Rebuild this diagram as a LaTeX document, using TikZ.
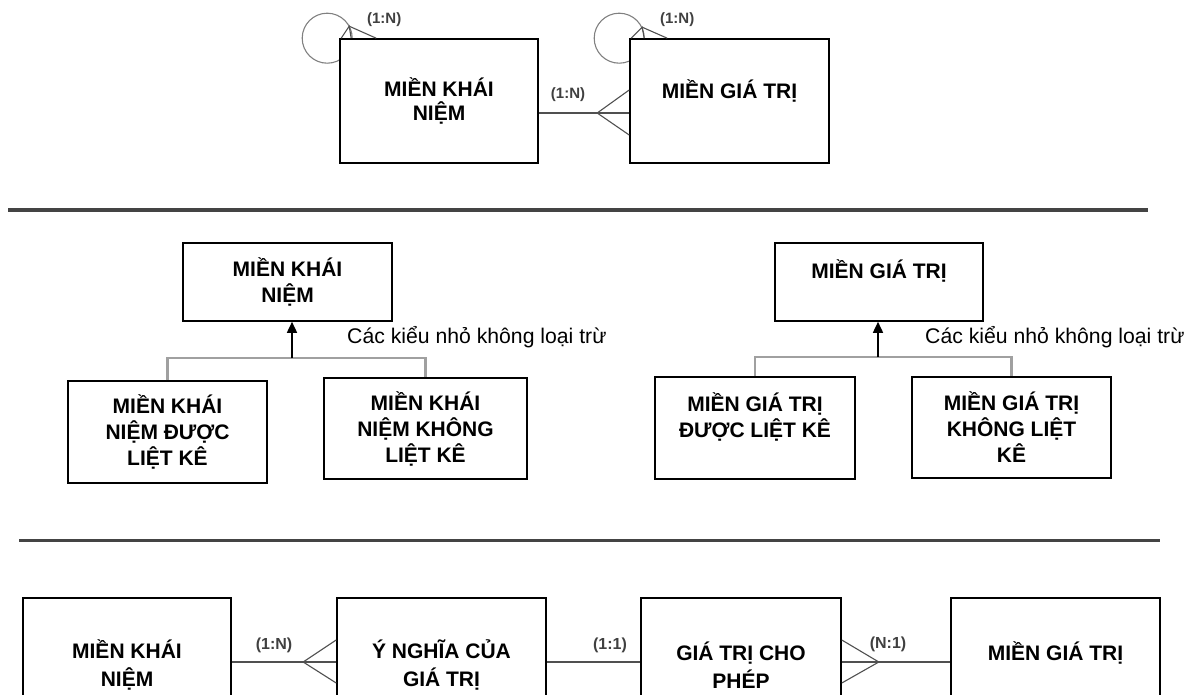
\documentclass[tikz,border=0pt]{standalone}
\usepackage{fontspec}
\setmainfont{Liberation Sans}
\usetikzlibrary{arrows.meta,calc}
\pgfdeclarelayer{bg}
\pgfsetlayers{bg,main}
\definecolor{sepgray}{HTML}{444444}
\definecolor{treegray}{HTML}{A0A0A0}
\definecolor{conngray}{HTML}{505050}
\definecolor{lblgray}{HTML}{404040}
\begin{document}
\begin{tikzpicture}[x=1pt,y=-1pt,
  boxbase/.style={draw=black, line width=1.6pt, fill=white, inner sep=0pt, align=center},
  boxtop/.style={boxbase, font=\fontsize{21}{24}\selectfont\bfseries},
  boxmid/.style={boxbase, font=\fontsize{21}{26}\selectfont\bfseries},
  boxbot/.style={boxbase, font=\fontsize{21}{28}\selectfont\bfseries},
  conn/.style={draw=conngray, line width=1.4pt},
  crow/.style={draw=conngray, line width=1.1pt},
  selfloop/.style={draw=gray, line width=1.1pt},
  lbl/.style={text=lblgray, font=\fontsize{15}{17}\selectfont\bfseries, inner sep=0pt},
  lblb/.style={lbl, font=\fontsize{16}{18}\selectfont\bfseries},
  tree/.style={draw=treegray, line width=2.4pt},
  inh/.style={draw=black, line width=1.6pt, -{Triangle[width=10pt,length=11pt]}},
  note/.style={font=\fontsize{21.2}{25}\selectfont, inner sep=0pt},
  sepline/.style={draw=sepgray, line width=3pt}
]
\useasboundingbox (0,0) rectangle (1188,695);
\clip (0,0) rectangle (1188,695);

% ---------- top section ----------
\node[boxtop, minimum width=198pt, minimum height=124pt] (k1) at (439,101) {MIỀN KHÁI\\NIỆM};
\node[boxtop, minimum width=199pt, minimum height=124pt] (g1) at (729.5,101) {MIỀN GIÁ TRỊ\\\phantom{M}};

\draw[conn] ([yshift=-12pt]k1.east) -- ([yshift=-12pt]g1.west);
\coordinate (v1) at ([xshift=-32pt,yshift=-12pt]g1.west);
\draw[crow] ([yshift=11pt]g1.west) -- (v1) -- ([yshift=-34pt]g1.west);
\node[lbl] (l1) at (568,95) {(1:N)};

\begin{pgfonlayer}{bg}
  \draw[selfloop] ([xshift=-12pt]k1.north west) circle[radius=25pt];
  \draw[selfloop] ([xshift=-10pt]g1.north west) circle[radius=25pt];
\end{pgfonlayer}
\coordinate (v2) at ([xshift=10pt,yshift=12pt]k1.north west);
\draw[crow] ([xshift=2pt]k1.north west) -- (v2) -- ([xshift=12pt]k1.north west);
\draw[crow] (v2) -- ([xshift=37pt]k1.north west);
\node[lbl] (l2) at ([xshift=45pt,yshift=19pt]k1.north west) {(1:N)};

\coordinate (v3) at ([xshift=13pt,yshift=11pt]g1.north west);
\draw[crow] ([xshift=2pt]g1.north west) -- (v3) -- ([xshift=15pt]g1.north west);
\draw[crow] (v3) -- ([xshift=38pt]g1.north west);
\node[lbl] (l3) at ([xshift=48pt,yshift=19pt]g1.north west) {(1:N)};

\draw[sepline] (8,210) -- (1148,210);

% ---------- middle section, left ----------
\node[boxmid, minimum width=209pt, minimum height=78pt] (p1) at (287.5,282) {MIỀN KHÁI\\NIỆM};
\node[boxmid, minimum width=199pt, minimum height=102pt] (c1) at (167.5,432) {MIỀN KHÁI\\NIỆM ĐƯỢC\\LIỆT KÊ};
\node[boxmid, minimum width=203pt, minimum height=101pt] (c2) at (425.5,428.5) {MIỀN KHÁI\\NIỆM KHÔNG\\LIỆT KÊ};
\coordinate (j1) at (292,358);
\draw[tree] (c1.north) |- (j1) -| (c2.north);
\draw[inh] (j1) -- (j1 |- p1.south);
\node[note, anchor=west] (n1) at (347,337) {Các kiểu nhỏ không loại trừ};

% ---------- middle section, right ----------
\node[boxmid, minimum width=208pt, minimum height=78pt] (p2) at (879,282) {MIỀN GIÁ TRỊ\\\phantom{M}};
\node[boxmid, minimum width=200pt, minimum height=102pt] (c3) at (755,428) {MIỀN GIÁ TRỊ\\ĐƯỢC LIỆT KÊ\\\phantom{M}};
\node[boxmid, minimum width=199pt, minimum height=101pt] (c4) at (1011.5,427.5) {MIỀN GIÁ TRỊ\\KHÔNG LIỆT\\KÊ};
\coordinate (j2) at (878,357);
\draw[tree] (c3.north) |- (j2) -| (c4.north);
\draw[inh] (j2) -- (j2 |- p2.south);
\node[note, anchor=west] (n2) at (925,337) {Các kiểu nhỏ không loại trừ};

\draw[sepline] (19,540) -- (1160,540);

% ---------- bottom section ----------
\node[boxbot, minimum width=208pt, minimum height=134pt] (ba) at (127,665) {MIỀN KHÁI\\NIỆM};
\node[boxbot, minimum width=209pt, minimum height=134pt] (bb) at (441.5,665) {Ý NGHĨA CỦA\\GIÁ TRỊ};
\node[boxbot, minimum width=200pt, minimum height=134pt] (bc) at (741,665) {GIÁ TRỊ CHO\\PHÉP};
\node[boxbot, minimum width=209pt, minimum height=134pt] (bd) at (1055.5,665) {MIỀN GIÁ TRỊ\\\phantom{M}};

\draw[conn] ([yshift=3pt]ba.east) -- ([yshift=3pt]bb.west);
\coordinate (v4) at ([xshift=-33pt,yshift=3pt]bb.west);
\draw[crow] ([yshift=25pt]bb.west) -- (v4) -- ([yshift=-18pt]bb.west);
\node[lblb] (l4) at (274,645) {(1:N)};

\draw[conn] ([yshift=3pt]bb.east) -- ([yshift=3pt]bc.west);
\node[lblb] (l5) at (610,645) {(1:1)};

\draw[conn] ([yshift=3pt]bc.east) -- ([yshift=3pt]bd.west);
\coordinate (v5) at ([xshift=37pt,yshift=3pt]bc.east);
\draw[crow] ([yshift=25pt]bc.east) -- (v5) -- ([yshift=-18pt]bc.east);
\node[lblb] (l6) at (888,644) {(N:1)};
\end{tikzpicture}
\end{document}
